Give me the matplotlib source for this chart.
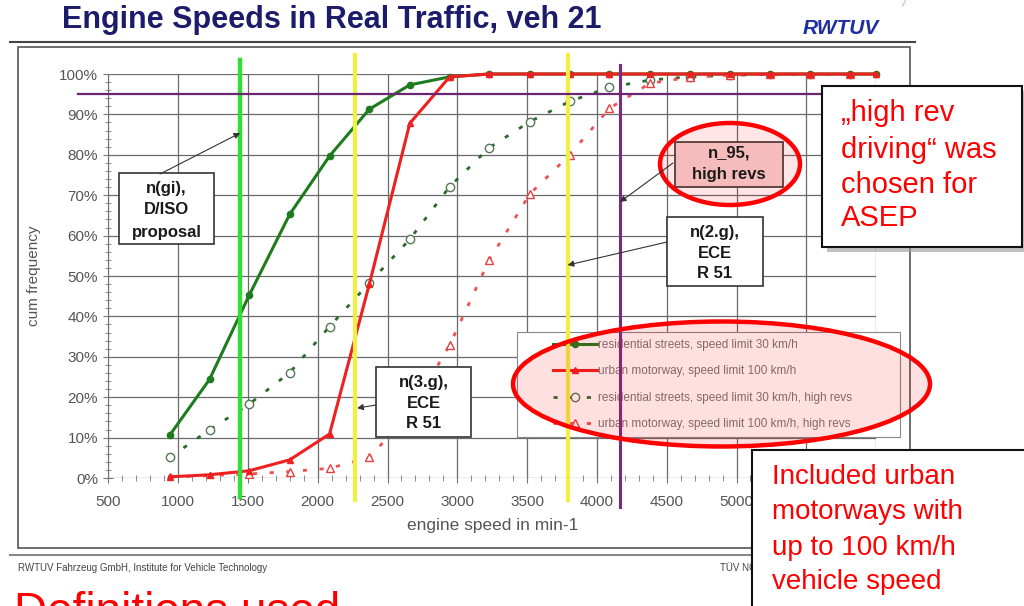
import numpy as np
import matplotlib.pyplot as plt
from matplotlib.patches import Rectangle, Ellipse, Arc
from matplotlib.ticker import MultipleLocator, PercentFormatter, FuncFormatter

plt.rcParams['font.family'] = ['Liberation Sans', 'DejaVu Sans']

# engine speed classes (min-1)
rpm = [940, 1225, 1510, 1800, 2085, 2370, 2660, 2945, 3230, 3520,
       3805, 4090, 4380, 4665, 4950, 5240, 5525, 5810]
rpm_solid = rpm + [6000]

# cumulative frequency in %
res30 = [10.6, 24.4, 45.3, 65.3, 79.7, 91.3, 97.3, 99.3, 100, 100,
         100, 100, 100, 100, 100, 100, 100, 100, 100]
mot100 = [0.3, 0.8, 1.8, 4.5, 10.9, 48.0, 87.8, 99.3, 100, 100,
          100, 100, 100, 100, 100, 100, 100, 100, 100]
res30_hr = [5.1, 11.9, 18.3, 26.1, 37.5, 48.3, 59.1, 72.1, 81.8, 88.2,
            93.2, 96.7, 98.5, 99.3, 99.7, 99.9, 100, 100]
mot100_hr = [0.2, 0.6, 1.0, 1.6, 2.4, 5.1, 16.0, 32.9, 54.0, 70.3,
             80.0, 91.5, 97.7, 99.2, 99.7, 99.9, 100, 100]

labels = ["residential streets, speed limit 30 km/h",
          "urban motorway, speed limit 100 km/h",
          "residential streets, speed limit 30 km/h, high revs",
          "urban motorway, speed limit 100 km/h, high revs"]

# reference speeds
n_gi = 1445
n_3g = 2267
n_2g = 3790
n_95 = 4165
p95 = 95

W, H = 1024, 606
fig = plt.figure(figsize=(W / 100, H / 100), dpi=100)

def fx(x):
    return x / W

def fy(y):
    return 1 - y / H

ax = fig.add_axes([fx(108.3), fy(478), (876.1 - 108.3) / W, 404 / H])
ax.set_xlim(500, 6000)
ax.set_ylim(0, 100)
for s in ax.spines.values():
    s.set_visible(False)
ax.set_axisbelow(True)
ax.xaxis.set_major_locator(MultipleLocator(500))
ax.xaxis.set_minor_locator(MultipleLocator(100))
# labels beyond 5000 sit under the comment box
ax.xaxis.set_major_formatter(FuncFormatter(lambda v, p: f"{v:.0f}" if v <= 5000 else ""))
ax.yaxis.set_major_locator(MultipleLocator(10))
ax.yaxis.set_minor_locator(MultipleLocator(2))
ax.yaxis.set_major_formatter(PercentFormatter(decimals=0))
ax.grid(True, which='major', color='#6a6a6a', lw=0.9)
ax.tick_params(which='major', direction='inout', length=7, color='#777',
               labelsize=11, labelcolor='#555', pad=4)
ax.tick_params(axis='x', which='major', pad=9)
ax.tick_params(which='minor', direction='inout', length=5, color='#777')
ax.set_xlabel("engine speed in min-1", fontsize=12.5, color='#555', labelpad=6)
ax.set_ylabel("cum frequency", fontsize=11, color='#555', labelpad=13)

l1, = ax.plot(rpm_solid, res30, color='#1e7b1e', lw=2.2, marker='o', ms=4.5,
              zorder=2, clip_on=False)
l2, = ax.plot(rpm_solid, mot100, color='#ee2020', lw=2.2, marker='^', ms=4.5,
              zorder=2.1, clip_on=False)
l3, = ax.plot(rpm, res30_hr, color='#2a6a2a', lw=2, ls=(0, (1.5, 4.5)),
              marker='o', ms=6, mfc='white', mec='#557755', zorder=2)
l4, = ax.plot(rpm, mot100_hr, color='#f05050', lw=2, ls=(0, (1.5, 4.5)),
              marker='^', ms=6, mfc='white', mec='#e84040', zorder=2)

# legend with its own frame
ax.add_patch(Rectangle((fx(517), fy(437)), (900 - 517) / W, (437 - 332) / H,
                       transform=fig.transFigure, fc='white', ec='#888',
                       lw=0.8, clip_on=False, zorder=1.5))
leg = ax.legend([l1, l2, l3, l4], labels, loc='upper left',
                bbox_to_anchor=(fx(553), fy(339)), bbox_transform=fig.transFigure,
                frameon=False, borderpad=0, borderaxespad=0, fontsize=8.5,
                handlelength=3.7, handletextpad=0.1, labelspacing=1.22)
for t in leg.get_texts():
    t.set_color('#777')
leg.set_zorder(2.5)

# reference lines
ax.axvline(n_gi, ymin=-0.047, ymax=1.035, color='#33dd33', lw=3.2, clip_on=False, zorder=3)
ax.axvline(n_3g, ymin=-0.054, ymax=1.047, color='#f0f040', lw=3, clip_on=False, zorder=3)
ax.axvline(n_2g, ymin=-0.054, ymax=1.047, color='#f0f040', lw=3, clip_on=False, zorder=3)
ax.axvline(n_95, ymin=-0.072, ymax=1.022, color='#7b2b83', lw=2.2, clip_on=False, zorder=3)
ax.axhline(p95, xmin=-0.039, xmax=1.06, color='#6b2570', lw=1.6, clip_on=False, zorder=3)

# overlay in pixel coordinates
ov = fig.add_axes([0, 0, 1, 1], zorder=5)
ov.set_xlim(0, W)
ov.set_ylim(H, 0)
ov.axis('off')
ov.patch.set_alpha(0)

ov.text(62, 20, "Engine Speeds in Real Traffic, veh 21", fontsize=22,
        fontweight='bold', color='#1c1c6b', va='center', ha='left')
ov.text(803, 28, "RWTUV", fontsize=15, fontweight='heavy', style='italic',
        color='#1f2f9f', va='center', ha='left')
ov.add_patch(Arc((862, -8), 90, 64, theta1=300, theta2=20, color='#ccc', lw=1))
ov.plot([10, 915], [42, 42], color='#444', lw=1.5)
ov.add_patch(Rectangle((18, 47), 892, 501, fc='none', ec='#555', lw=1.2))
ov.plot([10, 915], [555, 555], color='#888', lw=1.5)
ov.text(18, 568, "RWTUV Fahrzeug GmbH, Institute for Vehicle Technology",
        fontsize=7, color='#444', va='center')
ov.text(720, 568, "TÜV NORD", fontsize=7, color='#444', va='center')
ov.text(14, 625, "Definitions used", fontsize=33, color='#ff0000', va='baseline')


def note_box(x0, y0, x1, y1, lines, ys, fc='white'):
    ov.add_patch(Rectangle((x0, y0), x1 - x0, y1 - y0, fc=fc, ec='#333', lw=1.2))
    for s, y in zip(lines, ys):
        ov.text((x0 + x1) / 2, y, s, fontsize=12, fontweight='bold',
                color='#1a1a1a', ha='center', va='center')


def arrow(src, target):
    ov.annotate('', xy=target, xycoords=ax.transData, xytext=src,
                textcoords='data', annotation_clip=False,
                arrowprops=dict(arrowstyle='-|>', color='#333', lw=0.8,
                                mutation_scale=9, shrinkA=0, shrinkB=0))


note_box(119, 173, 214, 244, ["n(gi),", "D/ISO", "proposal"], [188, 210, 232])
arrow((160, 174), (n_gi, 85.4))
note_box(376, 367, 471, 437, ["n(3.g),", "ECE", "R 51"], [382, 403, 424])
arrow((376, 405), (n_3g + 15, 17.3))
note_box(667, 217, 763, 286, ["n(2.g),", "ECE", "R 51"], [233, 253, 273])
arrow((667, 242), (n_2g, 52.7))
note_box(675, 142, 783, 187, ["n_95,", "high revs"], [153, 174], fc='#f6d2d2')
arrow((673, 163), (n_95, 68.3))

# red highlight ellipses
ov.add_patch(Ellipse((721.5, 384), 417, 125, fc=(1, 0, 0, 0.12), ec='#ff0000', lw=3.2))
ov.add_patch(Ellipse((730, 164), 140, 82, fc=(1, 0, 0, 0.10), ec='#ff0000', lw=3.2))

# comment boxes
ov.add_patch(Rectangle((827, 91), 201, 161, fc='#999', ec='none', alpha=0.6, zorder=6))
ov.add_patch(Rectangle((822, 86), 200, 161, fc='white', ec='#111', lw=1.5, zorder=6))
for s, y in zip(["„high rev", "driving“ was", "chosen for", "ASEP"],
                [113, 150, 185, 218]):
    ov.text(841, y, s, fontsize=21, color='#ff0000', va='center', ha='left', zorder=7)

ov.add_patch(Rectangle((752, 450), 300, 200, fc='white', ec='#111', lw=1.5, zorder=6))
for s, y in zip(["Included urban", "motorways with", "up to 100 km/h",
                 "vehicle speed"], [477, 512, 548, 582]):
    ov.text(772, y, s, fontsize=20, color='#ff0000', va='center', ha='left', zorder=7)

fig.savefig("out.png", dpi=100)
